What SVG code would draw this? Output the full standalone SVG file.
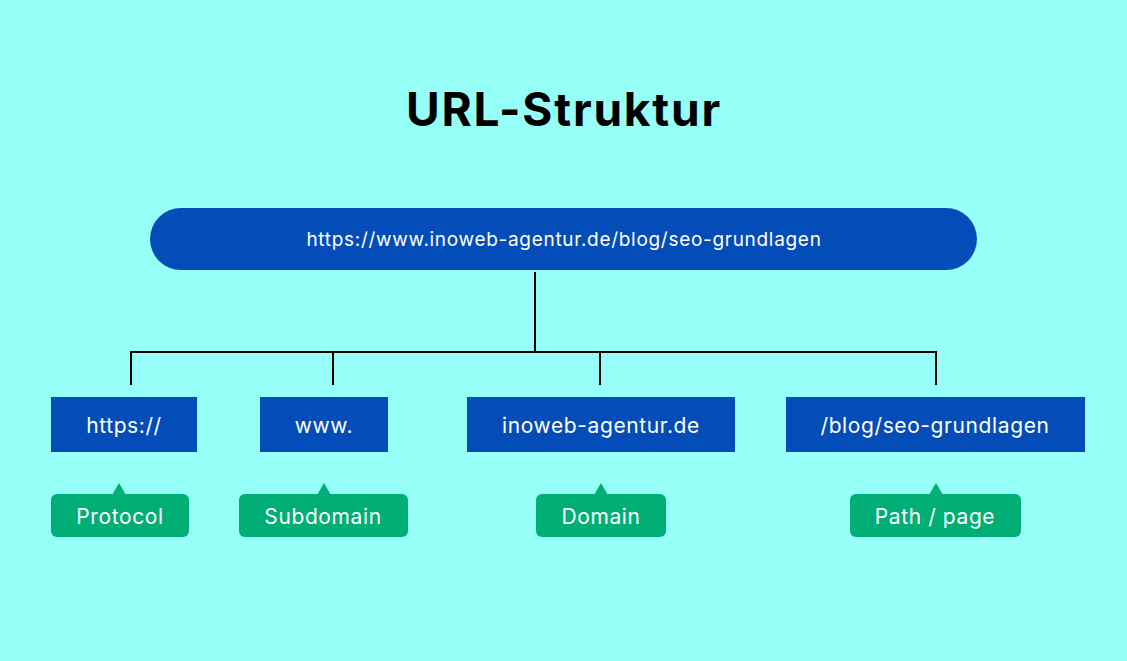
<svg xmlns="http://www.w3.org/2000/svg" width="1127" height="661" viewBox="0 0 1127 661">
<style>
.t{font-family:Inter,"Noto Sans",sans-serif;fill:#fff;text-anchor:middle;font-size:21px;letter-spacing:0.6px}
.box{fill:#044DB8}
.tag{fill:#00AE76}
.ln{stroke:#000;stroke-width:2;fill:none}
</style>
<rect width="1127" height="661" fill="#96FFF7"/>
<text x="564" y="126" font-family="Inter,'Noto Sans',sans-serif" font-weight="700" font-size="46" letter-spacing="1.8" text-anchor="middle" fill="#000">URL-Struktur</text>
<g id="url">
<rect class="box" x="150" y="208" width="827" height="62" rx="31"/>
<text class="t" x="564" y="246" style="font-size:19px;letter-spacing:0.7px">https://www.inoweb-agentur.de/blog/seo-grundlagen</text>
</g>
<g id="connectors">
<path class="ln" d="M535 272V352M131 352H936M131 351V385M333 351V385M600 351V385M936 351V385"/>
</g>
<g id="protocol">
<rect class="box" x="51" y="397" width="146" height="55"/>
<text class="t" x="124" y="433">https://</text>
</g>
<g id="subdomain">
<rect class="box" x="260" y="397" width="128" height="55"/>
<text class="t" x="324" y="433">www.</text>
</g>
<g id="domain">
<rect class="box" x="467" y="397" width="268" height="55"/>
<text class="t" x="601" y="433">inoweb-agentur.de</text>
</g>
<g id="path">
<rect class="box" x="786" y="397" width="299" height="55"/>
<text class="t" x="935" y="433">/blog/seo-grundlagen</text>
</g>
<g id="tag-protocol">
<rect class="tag" x="51" y="494" width="138" height="43" rx="6"/>
<path class="tag" d="M112 495L119 483L126 495Z"/>
<text class="t" x="120" y="524">Protocol</text>
</g>
<g id="tag-subdomain">
<rect class="tag" x="239" y="494" width="169" height="43" rx="6"/>
<path class="tag" d="M317 495L324 483L331 495Z"/>
<text class="t" x="323" y="524">Subdomain</text>
</g>
<g id="tag-domain">
<rect class="tag" x="536" y="494" width="130" height="43" rx="6"/>
<path class="tag" d="M594 495L601 483L608 495Z"/>
<text class="t" x="601" y="524">Domain</text>
</g>
<g id="tag-path">
<rect class="tag" x="850" y="494" width="171" height="43" rx="6"/>
<path class="tag" d="M929 495L936 483L943 495Z"/>
<text class="t" x="935" y="524">Path / page</text>
</g>
</svg>
